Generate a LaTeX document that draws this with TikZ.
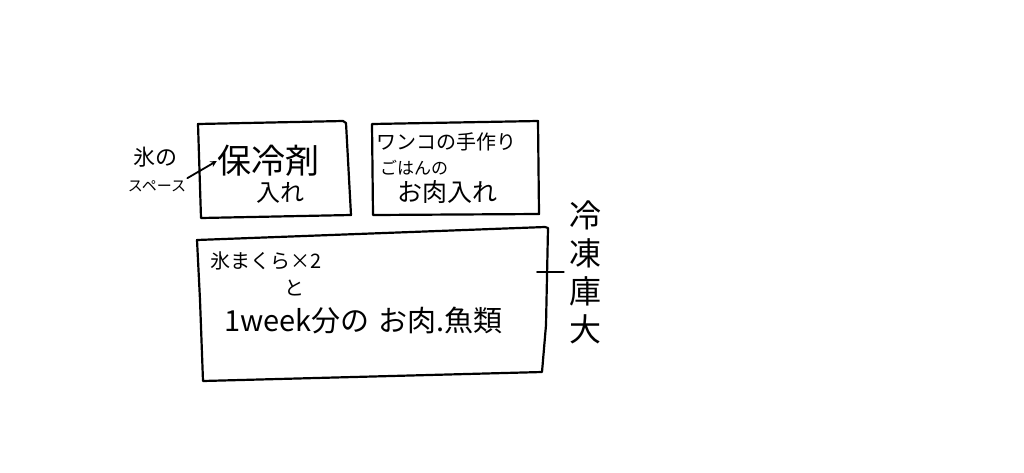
\documentclass[tikz,border=0pt]{standalone}
\usepackage{fontspec}
\newfontfamily\jp{Noto Sans CJK JP}
\begin{document}
\begin{tikzpicture}[x=1pt,y=-1pt,
  hand/.style={line width=2.2pt,line join=round,line cap=round},
  lbl/.style={inner sep=0pt,font=\jp,align=center}]
\useasboundingbox[fill=white] (0,0) rectangle (1024,472);
% boxes
\draw[hand] (198,124) -- (343,121) -- (346,123) -- (351,215) -- (201,218) -- cycle;
\draw[hand] (372,124) -- (538,121) -- (539,214) -- (373,215) -- cycle;
\draw[hand] (197,240) -- (545,227) -- (548,228) -- (546,325) -- (542,372) -- (203,381) -- (200,300) -- cycle;
% labels
\node[lbl,font=\jp\fontsize{22}{24}\selectfont] (ice) at (155,157) {氷の};
\node[lbl,font=\jp\fontsize{15}{17}\selectfont] (space) at (157,186) {スペース};
\node[lbl,font=\jp\fontsize{34}{36}\selectfont] (hr) at (268,161) {保冷剤};
\node[lbl,font=\jp\fontsize{24}{26}\selectfont] (hr2) at (280,193) {入れ};
\node[lbl,font=\jp\fontsize{20}{22}\selectfont] (w1) at (446,142) {ワンコの手作り};
\node[lbl,font=\jp\fontsize{17}{19}\selectfont] (w2) at (414,168) {ごはんの};
\node[lbl,font=\jp\fontsize{25}{27}\selectfont] (w3) at (447,192) {お肉入れ};
\node[lbl,font=\jp\fontsize{20}{22}\selectfont] (b1) at (266,261) {氷まくら×2};
\node[lbl,font=\jp\fontsize{20}{22}\selectfont] (b2) at (294,288) {と};
\node[lbl,font=\jp\fontsize{29}{31}\selectfont,anchor=west] (b3) at (224,320) {1week分の\hspace{0.3em}お肉.魚類};
\node[lbl,font=\jp\fontsize{32}{38}\selectfont] (fr) at (585,272) {冷\\凍\\庫\\大};
\coordinate (tk) at (537,272);
\draw[hand,line width=1.8pt,shorten >=5pt] (tk) -- (fr.west);
\draw[hand,line width=1.8pt,->,>={stealth}] (space.north east) ++(1,-2) -- (hr.west);
\end{tikzpicture}
\end{document}
